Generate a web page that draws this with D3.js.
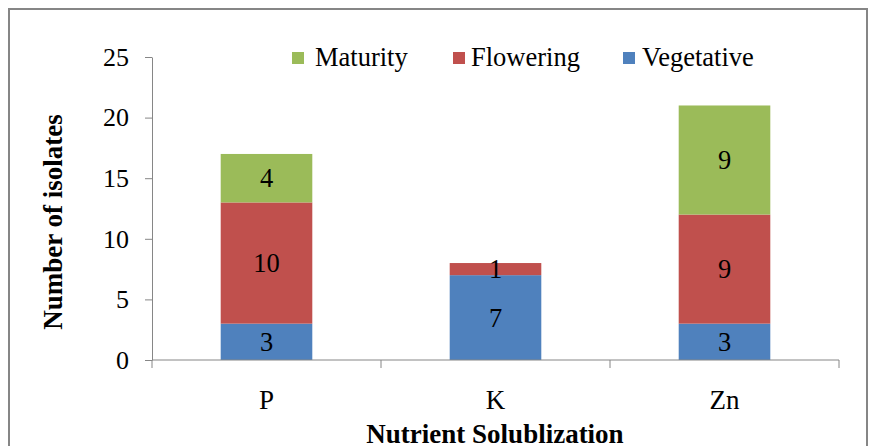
<!DOCTYPE html>
<html><head><meta charset="utf-8">
<script src="https://cdn.jsdelivr.net/npm/d3@7"></script>
<style>body{margin:0;background:#fff}svg{display:block}svg text{font-family:'Liberation Serif','Times New Roman',serif;fill:#000}</style>
</head><body><svg id="c" width="871" height="446"></svg>
<script>
const categories = ["P", "K", "Zn"];
const seriesNames = ["Vegetative", "Flowering", "Maturity"];
const vegetative = [3, 7, 3];
const flowering = [10, 1, 9];
const maturity = [4, 0, 9];
const yTicks = [0, 5, 10, 15, 20, 25];
const colors = {Vegetative: "#4F81BD", Flowering: "#C0504D", Maturity: "#9BBB59"};
const legendOrder = ["Maturity", "Flowering", "Vegetative"];

const svg = d3.select("#c");
svg.append("rect").attr("x", 9).attr("y", 9).attr("width", 858).attr("height", 460)
  .attr("fill", "none").attr("stroke", "#868686").attr("stroke-width", 2);

const L = 152, R = 839, T = 57, B = 360;
const x = d3.scaleBand().domain(categories).range([L, R]).paddingInner(0.6).paddingOuter(0.3);
const y = d3.scaleLinear().domain([0, 25]).range([B, T]);

const table = categories.map((c, i) => ({cat: c, Vegetative: vegetative[i], Flowering: flowering[i], Maturity: maturity[i]}));
const stack = d3.stack().keys(seriesNames)(table);

const g = svg.append("g");
stack.forEach(s => {
  s.forEach(d => {
    const v = d[1] - d[0];
    if (v <= 0) return;
    g.append("rect").attr("x", x(d.data.cat)).attr("width", x.bandwidth())
      .attr("y", y(d[1])).attr("height", y(d[0]) - y(d[1])).attr("fill", colors[s.key]);
  });
});
stack.forEach(s => {
  s.forEach(d => {
    const v = d[1] - d[0];
    if (v <= 0) return;
    g.append("text").attr("x", x(d.data.cat) + x.bandwidth() / 2).attr("y", y((d[0] + d[1]) / 2))
      .attr("dy", "0.35em").attr("text-anchor", "middle").attr("font-size", 26.5).text(v);
  });
});

// y axis
const ya = svg.append("g").attr("transform", `translate(${L},0)`)
  .call(d3.axisLeft(y).tickValues(yTicks).tickSize(7).tickSizeOuter(0));
ya.select(".domain").attr("stroke", "#868686");
ya.selectAll(".tick line").attr("stroke", "#868686");
ya.selectAll(".tick text").attr("font-size", 26).attr("fill", "#000").attr("x", -23);

// x axis
const xa = svg.append("g").attr("transform", `translate(0,${B})`);
xa.append("line").attr("x1", L).attr("x2", R).attr("stroke", "#868686");
const bounds = [L].concat(categories.map(c => x(c) + x.bandwidth() / 2 + x.step() / 2));
bounds.forEach(b => xa.append("line").attr("x1", b).attr("x2", b).attr("y1", 0).attr("y2", 8).attr("stroke", "#868686"));
categories.forEach(c => xa.append("text").attr("x", x(c) + x.bandwidth() / 2).attr("y", 49)
  .attr("text-anchor", "middle").attr("font-size", 27).text(c));

// titles
svg.append("text").attr("transform", "translate(62,222) rotate(-90)").attr("text-anchor", "middle")
  .attr("font-size", 27).attr("font-weight", "bold").text("Number of isolates");
svg.append("text").attr("x", 495).attr("y", 443).attr("text-anchor", "middle")
  .attr("font-size", 27).attr("font-weight", "bold").text("Nutrient Solublization");

// legend
const legX = [292, 453, 623];
const legTextX = [315, 471, 642];
legendOrder.forEach((k, i) => {
  svg.append("rect").attr("x", legX[i]).attr("y", 52).attr("width", 12).attr("height", 12).attr("fill", colors[k]);
  svg.append("text").attr("x", legTextX[i]).attr("y", 66).attr("font-size", 26.5).text(k);
});
</script></body></html>
